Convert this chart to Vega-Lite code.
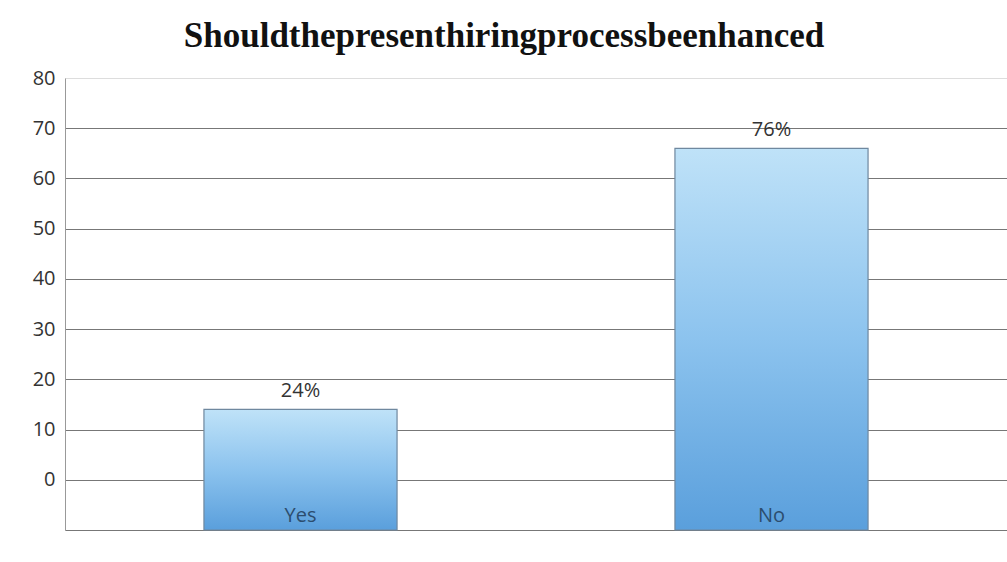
{
  "$schema": "https://vega.github.io/schema/vega-lite/v6.json",
  "width": 942,
  "height": 452,
  "autosize": "none",
  "padding": {"left": 65, "top": 78, "right": 0, "bottom": 32},
  "background": "white",
  "title": {
    "text": "Shouldthepresenthiringprocessbeenhanced",
    "font": "Liberation Serif",
    "fontWeight": "bold",
    "fontSize": 35,
    "color": "#111",
    "anchor": "middle",
    "frame": "group",
    "dx": -32,
    "offset": 14
  },
  "data": {
    "values": [
      {"answer": "Yes", "percent": 24, "label": "24%"},
      {"answer": "No", "percent": 76, "label": "76%"}
    ]
  },
  "encoding": {
    "x": {
      "field": "answer",
      "type": "nominal",
      "sort": ["Yes", "No"],
      "scale": {"paddingInner": 0, "paddingOuter": 0},
      "axis": null
    }
  },
  "layer": [
    {
      "mark": {
        "type": "bar",
        "width": {"band": 0.41},
        "color": {
          "gradient": "linear",
          "x1": 0, "y1": 0, "x2": 0, "y2": 1,
          "stops": [
            {"offset": 0, "color": "#bfe2f8"},
            {"offset": 0.5, "color": "#8cc3ee"},
            {"offset": 1, "color": "#5a9fdc"}
          ]
        },
        "stroke": "#6f889f",
        "strokeWidth": 1.2
      },
      "encoding": {
        "y": {
          "field": "percent",
          "type": "quantitative",
          "scale": {"domain": [0, 90], "nice": false},
          "axis": {
            "title": null,
            "values": [0, 10, 20, 30, 40, 50, 60, 70, 80, 90],
            "labelExpr": "datum.value == 0 ? '' : toString(datum.value - 10)",
            "labelFont": "Open Sans",
            "labelFontSize": 20,
            "labelColor": "#333",
            "labelPadding": 10,
            "ticks": false,
            "domain": true,
            "domainColor": "#999",
            "grid": true,
            "gridColor": "#777",
            "gridWidth": 1,
            "gridOpacity": {"condition": {"test": "datum.value == 90", "value": 0}, "value": 1}
          }
        }
      }
    },
    {
      "mark": {
        "type": "text",
        "baseline": "bottom",
        "dy": -8,
        "font": "Open Sans",
        "fontSize": 20,
        "color": "#333"
      },
      "encoding": {
        "y": {"field": "percent", "type": "quantitative"},
        "text": {"field": "label"}
      }
    },
    {
      "mark": {
        "type": "text",
        "baseline": "bottom",
        "dy": -4,
        "font": "Open Sans",
        "fontSize": 20,
        "color": "#2c4d6e"
      },
      "encoding": {
        "y": {"datum": 0},
        "text": {"field": "answer"}
      }
    }
  ]
}
